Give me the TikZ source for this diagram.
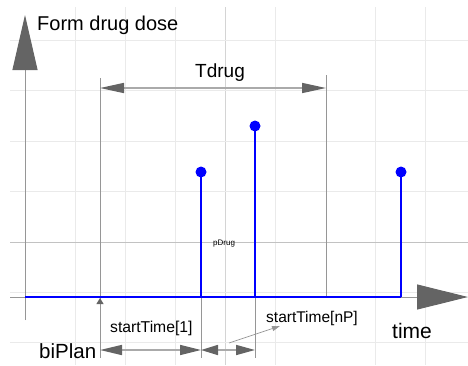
\documentclass[tikz,border=0pt]{standalone}
\usepackage{fontspec}
\setmainfont{Liberation Sans}
\usetikzlibrary{arrows.meta}
\definecolor{gridgray}{RGB}{234,234,234}
\definecolor{markgray}{RGB}{150,150,150}
\definecolor{shaftgray}{RGB}{170,170,170}
\definecolor{headgray}{RGB}{100,100,100}
\tikzset{
  gridline/.style={gridgray, line width=1pt},
  markline/.style={markgray, line width=1pt},
  dimline/.style={shaftgray, line width=1.6pt},
  dose/.style={blue, line width=1.6pt},
  lbl/.style={inner sep=0pt, anchor=base west},
}
\newcommand{\headtip}[2]{Triangle[length=#1pt,width=#2pt,color=headgray]}

\begin{document}
\begin{tikzpicture}[x=1pt,y=-1pt]
  \useasboundingbox (0,0) rectangle (468,365);

  % grid
  \foreach \gx in {75,125,175,275,375,425}
    \draw[gridline] (\gx,7) -- (\gx,365);
  \draw[gridline, black!17] (225,7) -- (225,365);
  \foreach \gy in {40,90,141,191,292,342}
    \draw[gridline] (10,\gy) -- (468,\gy);
  \draw[gridline, black!24] (10,242) -- (468,242);

  % time marks
  \coordinate (t0top) at (100,78);  \coordinate (t0bot) at (100,358);
  \coordinate (t0ax) at (100,298);  \coordinate (t0low) at (100,310);
  \coordinate (tetop) at (326,75);  \coordinate (teax) at (326,297);
  \coordinate (t1ax) at (201,297);  \coordinate (t1bot) at (201,358);
  \coordinate (tnax) at (255,297);  \coordinate (tnbot) at (255,358);
  \draw[markline] (t0top) -- (t0bot);
  \draw[markline] (tetop) -- (teax);
  \draw[markline] (t1ax) -- (t1bot);
  \draw[markline] (tnax) -- (tnbot);
  \draw[markline, -{\headtip{6}{7}}] (t0low) -- (t0ax);

  % axes
  \coordinate (ybot) at (25,320); \coordinate (ytop) at (25,15);
  \coordinate (xleft) at (10,297); \coordinate (xright) at (468,297);
  \draw[markline, -{\headtip{55}{25}}] (ybot) -- (ytop);
  \draw[markline, -{\headtip{51}{25}}] (xleft) -- (xright);

  % doses
  \draw[dose] (25,297) -- (401,297);
  \foreach \sx/\sy in {201/172,255/126,401/172} {
    \draw[dose] (\sx,297) -- (\sx,\sy);
    \fill[blue] (\sx,\sy) circle (5.5pt);
  }

  % dimensions
  \coordinate (tdl) at (100,88); \coordinate (tdr) at (326,88);
  \draw[dimline, {\headtip{24}{10}}-{\headtip{24}{10}}] (tdl) -- (tdr);
  \coordinate (s1l) at (100,350); \coordinate (s1r) at (201,350);
  \draw[dimline, {\headtip{22}{10}}-{\headtip{21}{10}}] (s1l) -- (s1r);
  \coordinate (snr) at (255,350);
  \draw[dimline, {\headtip{17}{10}}-{\headtip{19}{10}}] (s1r) -- (snr);
  \coordinate (pfrom) at (229,343); \coordinate (pto) at (280,326);
  \draw[markgray, line width=0.7pt, -{Triangle[length=8pt,width=5pt,color=markgray]}] (pfrom) -- (pto);

  % labels
  \node[lbl, font=\fontsize{20}{24}\selectfont] (ylab) at (37,30) {Form drug dose};
  \node[lbl, font=\fontsize{19}{23}\selectfont] (tdlab) at (195,77) {Tdrug};
  \node[lbl, font=\fontsize{8}{10}\selectfont] (pdlab) at (213,245) {pDrug};
  \node[lbl, font=\fontsize{15.7}{19}\selectfont] (s1lab) at (110,332) {startTime[1]};
  \node[lbl, font=\fontsize{15.5}{19}\selectfont] (snlab) at (266,322) {startTime[nP]};
  \node[lbl, font=\fontsize{21}{25}\selectfont] (xlab) at (392,338) {time};
  \node[lbl, font=\fontsize{20.5}{25}\selectfont] (bplab) at (39,358) {biPlan};
\end{tikzpicture}
\end{document}
